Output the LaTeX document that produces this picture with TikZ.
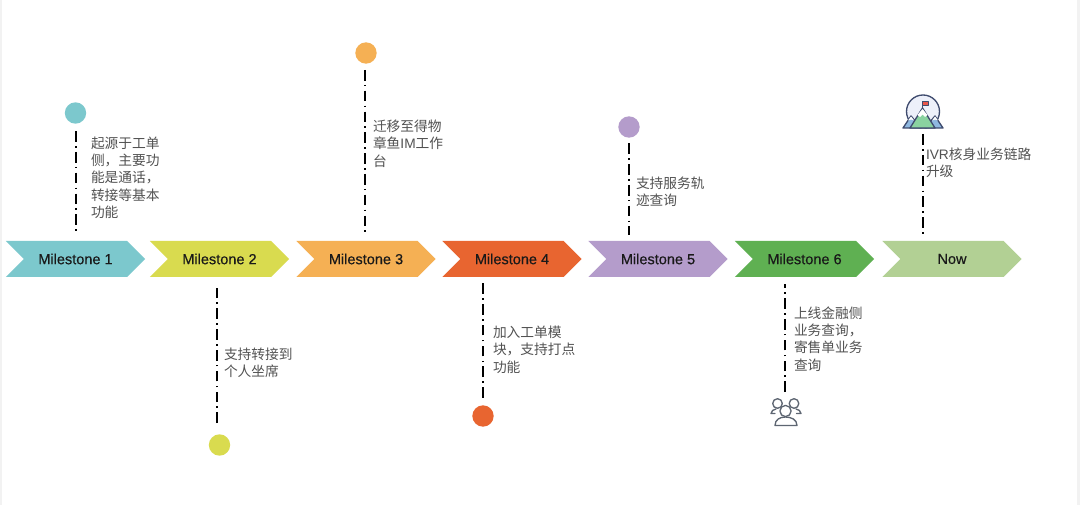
\documentclass[tikz,border=0pt]{standalone}
\usepackage{fontspec}
\setmainfont{Liberation Sans}
\newfontfamily\cjk{Noto Sans CJK SC}
\newfontfamily\lat{Liberation Sans}
\newfontfamily\medium[FakeBold=0.35]{Liberation Sans}
\usetikzlibrary{shapes.symbols}
\definecolor{cTeal}{HTML}{7CC8CD}
\definecolor{cLime}{HTML}{D9DB4F}
\definecolor{cOrange}{HTML}{F5B054}
\definecolor{cRed}{HTML}{E86530}
\definecolor{cPurple}{HTML}{B49CCB}
\definecolor{cGreen}{HTML}{5FB052}
\definecolor{cPale}{HTML}{B2D094}
\definecolor{cNavy}{HTML}{3F4B6E}
\definecolor{cGrey}{HTML}{5E6672}
\definecolor{cSky}{HTML}{EDF0FA}
\definecolor{cSlope}{HTML}{8FB8E0}
\definecolor{cMeadow}{HTML}{8AD2A0}
\definecolor{cFlag}{HTML}{E8564A}
\tikzset{
  chevron/.style={signal, signal from=west, signal to=east, signal pointer angle=90,
    minimum width=104.5pt, minimum height=27pt, inner sep=0pt, outer sep=0pt,
    fill=#1, text=black!90, font=\medium\fontsize{10.9}{12}\selectfont},
  dotnode/.style={circle, fill=#1, minimum size=16pt, inner sep=0pt, outer sep=0pt},
  iconanchor/.style={circle, minimum size=24pt, inner sep=0pt, outer sep=0pt},
  link/.style={black, line width=1.5pt, dash pattern=on 8pt off 3.2pt on 1.2pt off 3.2pt},
  note/.style={anchor=north west, inner sep=0pt, outer sep=0pt, align=left, text=black!68,
    font=\cjk\fontsize{10.3}{13}\selectfont},
}
\begin{document}
\begin{tikzpicture}[x=0.75pt,y=-0.75pt]
\useasboundingbox (0,0) rectangle (1080,505);
\fill[white] (0,0) rectangle (1080,505);
\fill[black!5] (0,0) rectangle (2,505);
\fill[black!5] (1077,0) rectangle (1080,505);

% timeline arrows
\node[chevron=cTeal]   (m1) at (75.5,259)  {Milestone 1};
\node[chevron=cLime]   (m2) at (219.5,259) {Milestone 2};
\node[chevron=cOrange] (m3) at (366,259)   {Milestone 3};
\node[chevron=cRed]    (m4) at (512,259)   {Milestone 4};
\node[chevron=cPurple] (m5) at (658,259)   {Milestone 5};
\node[chevron=cGreen]  (m6) at (804.5,259) {Milestone 6};
\node[chevron=cPale]   (m7) at (952,259)   {Now};

% end markers
\node[dotnode=cTeal]   (d1) at (75.5,113) {};
\node[dotnode=cLime]   (d2) at (219.5,445) {};
\node[dotnode=cOrange] (d3) at (366,53) {};
\node[dotnode=cRed]    (d4) at (483,416) {};
\node[dotnode=cPurple] (d5) at (629,127) {};
\node[iconanchor]      (d6) at (786,412) {};
\node[iconanchor]      (d7) at (923,112) {};

% mountain and flag icon
\begin{scope}[line join=round]
  \draw[cNavy, line width=1pt, fill=cSky] (923,111.5) circle[radius=16.5];
  \fill[white] (903,128.8) rectangle (943,134);
  % side peaks
  \draw[cNavy, line width=1pt, fill=cSlope] (903,128) -- (911,116) -- (921,128) -- cycle;
  \draw[cNavy, line width=1pt, fill=cSlope] (925,128) -- (935,116) -- (943,128) -- cycle;
  \fill[white] (908,120.5) -- (911,116.5) -- (914.2,120.5) -- (911,119.5) -- cycle;
  \fill[white] (932,120.5) -- (935,116.5) -- (938,120.5) -- (935,119.5) -- cycle;
  % main peak
  \draw[cNavy, line width=1pt, fill=cMeadow] (910,128) -- (922.5,108) -- (935,128) -- cycle;
  \fill[white] (917.5,115) -- (922.5,109) -- (927.5,115) -- (925,117) -- (922.5,114.5) -- (920,117) -- cycle;
  % flag
  \draw[cNavy, line width=0.9pt] (922.5,108) -- (922.5,101);
  \draw[cNavy, line width=0.6pt, fill=cFlag] (922.5,101) rectangle (928,105.5);
\end{scope}

% group of people icon
\begin{scope}[cGrey, line width=1pt, line join=round, line cap=round]
  \draw (777.5,403.5) circle[radius=4.8];
  \draw (794,403.5) circle[radius=4.8];
  \draw (775,413.5) -- (771,413.5) .. controls (771,411) and (773.5,409.5) .. (776,409);
  \draw (796.5,413.5) -- (801,413.5) .. controls (801,411) and (798.5,409.5) .. (796,409);
  \draw[fill=white] (785.5,411) circle[radius=5.6];
  \draw (775,425.5) .. controls (775,419.5) and (780,417) .. (785.5,417)
        .. controls (791,417) and (797,419.5) .. (797,425.5) -- cycle;
\end{scope}

% connectors from markers to the timeline
\draw[link, shorten <=5.6pt, shorten >=5.3pt] (d1.south) -- (m1.north);
\draw[link, shorten >=5.3pt, shorten <=8.5pt] ([xshift=-1.8pt]d2.north) -- ([xshift=-1.8pt]m2.south);
\draw[link, shorten <=4.7pt, shorten >=4.6pt] ([xshift=-0.7pt]d3.south) -- ([xshift=-0.7pt]m3.north);
\draw[link, shorten <=5.6pt, shorten >=4.7pt] (d4.north) -- (m4.south -| d4.north);
\draw[link, shorten <=4.2pt, shorten >=4.6pt] (d5.south) -- (m5.north -| d5.south);
\draw[link, shorten <=3pt, shorten >=5.2pt] ([xshift=-0.7pt]d6.north) -- ([xshift=-0.7pt]m6.south -| d6.north);
\draw[link, shorten <=4.5pt, shorten >=3pt] (d7.south) -- (m7.north -| d7.south);

% descriptions
\node[note] (n1) at (91,136.5) {起源于工单\\侧，主要功\\能是通话，\\转接等基本\\功能};
\node[note] (n2) at (224,347.5) {支持转接到\\个人坐席};
\node[note] (n3) at (373,120) {迁移至得物\\章鱼{\lat IM}工作\\台};
\node[note] (n4) at (493,326) {加入工单模\\块，支持打点\\功能};
\node[note] (n5) at (636,177) {支持服务轨\\迹查询};
\node[note] (n6) at (794,306.5) {上线金融侧\\业务查询，\\寄售单业务\\查询};
\node[note] (n7) at (926,147.5) {{\lat IVR}核身业务链路\\升级};
\end{tikzpicture}
\end{document}
